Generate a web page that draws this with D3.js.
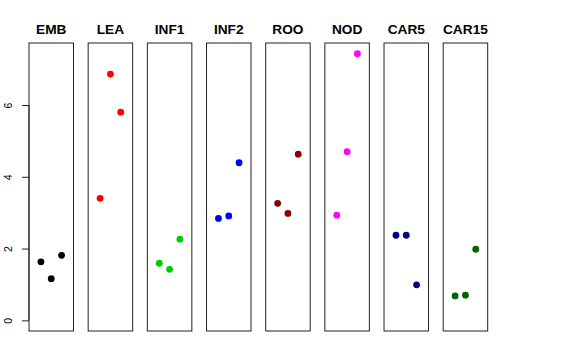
<!DOCTYPE html>
<html>
<head>
<meta charset="utf-8">
<script src="https://cdn.jsdelivr.net/npm/d3@7"></script>
<style>
  html, body { margin: 0; padding: 0; background: #fff; }
  svg { display: block; }
  text { font-family: "Liberation Sans", Arial, Helvetica, sans-serif; }
</style>
</head>
<body>
<svg id="chart" width="576" height="360"></svg>
<script>
const categories = ["EMB", "LEA", "INF1", "INF2", "ROO", "NOD", "CAR5", "CAR15"];
const replicates = [1, 2, 3];
const EMB   = [1.63, 1.16, 1.81];
const LEA   = [3.40, 6.86, 5.80];
const INF1  = [1.59, 1.42, 2.26];
const INF2  = [2.84, 2.91, 4.39];
const ROO   = [3.26, 2.98, 4.63];
const NOD   = [2.93, 4.70, 7.43];
const CAR5  = [2.37, 2.37, 0.99];
const CAR15 = [0.68, 0.70, 1.98];
const yTicks = [0, 2, 4, 6];

const seriesValues = [EMB, LEA, INF1, INF2, ROO, NOD, CAR5, CAR15];
const colors = ["#000000", "#FF0000", "#00CD00", "#0000FF", "#8B0000", "#FF00FF", "#000080", "#006400"];

const svg = d3.select("#chart");
const plotTop = 43, plotBottom = 331;
const firstLeft = 29, step = 59.17, panelW = 44.5;

// R-style 4% axis extension
const yMin = 0, yMax = d3.max(seriesValues.flat());
const yPad = (yMax - yMin) * 0.04;
const y = d3.scaleLinear().domain([yMin - yPad, yMax + yPad]).range([plotBottom, plotTop]);

const xPad = 4 * 0.04;

categories.forEach((cat, i) => {
  const left = firstLeft + i * step;
  const x = d3.scaleLinear().domain([0 - xPad, 4 + xPad]).range([left, left + panelW]);
  const g = svg.append("g");

  g.append("rect")
    .attr("x", left).attr("y", plotTop)
    .attr("width", panelW).attr("height", plotBottom - plotTop)
    .attr("fill", "none").attr("stroke", "#222").attr("stroke-width", 1);

  g.append("text")
    .attr("x", left + panelW / 2).attr("y", 34)
    .attr("text-anchor", "middle")
    .attr("font-weight", "bold")
    .attr("font-size", "13.7px")
    .text(cat);

  g.selectAll("circle")
    .data(seriesValues[i])
    .enter().append("circle")
    .attr("cx", (d, j) => x(replicates[j]))
    .attr("cy", d => y(d))
    .attr("r", 3.4)
    .attr("fill", colors[i]);

  if (i === 0) {
    const axis = d3.axisLeft(y).tickValues(yTicks).tickSize(7).tickPadding(0).tickFormat(d3.format("d"));
    const ag = g.append("g").attr("transform", `translate(${left},0)`).call(axis);
    ag.select(".domain").attr("d", `M0,${y(0)}V${y(6)}`).attr("stroke", "#222");
    ag.selectAll(".tick line").attr("stroke", "#222");
    ag.selectAll(".tick text")
      .attr("font-size", "10.5px")
      .attr("font-family", "'Liberation Sans', Arial, sans-serif")
      .attr("fill", "#000")
      .attr("text-anchor", "middle")
      .attr("dy", null)
      .attr("x", null)
      .attr("transform", d => `translate(-19.5,0) rotate(-90)`)
      .attr("y", 0)
      .attr("dominant-baseline", "middle");
  }
});
</script>
</body>
</html>
